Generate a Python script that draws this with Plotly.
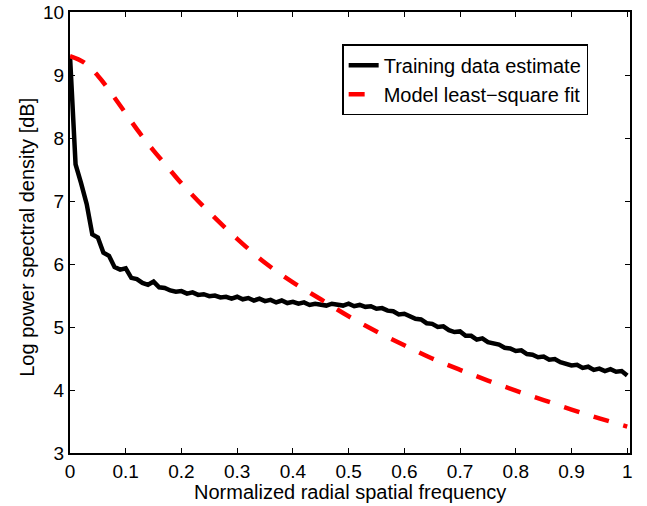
import plotly.graph_objects as go

# Normalized radial spatial frequency grid for the training estimate
freq_train = [round(i * 0.01, 2) for i in range(101)]
train_psd = [
    9.30, 7.58, 7.28, 6.95, 6.47, 6.42, 6.18, 6.13, 5.95, 5.91,
    5.93, 5.78, 5.76, 5.70, 5.67, 5.72, 5.63, 5.62, 5.58, 5.56,
    5.57, 5.53, 5.55, 5.51, 5.52, 5.49, 5.50, 5.47, 5.48, 5.45,
    5.48, 5.44, 5.46, 5.42, 5.45, 5.41, 5.43, 5.39, 5.42, 5.38,
    5.40, 5.37, 5.39, 5.35, 5.37, 5.35, 5.34, 5.37, 5.35, 5.34,
    5.37, 5.33, 5.35, 5.32, 5.33, 5.29, 5.30, 5.26, 5.25, 5.20,
    5.21, 5.16, 5.13, 5.12, 5.06, 5.05, 5.00, 5.01, 4.95, 4.92,
    4.93, 4.86, 4.86, 4.80, 4.82, 4.76, 4.74, 4.72, 4.67, 4.66,
    4.62, 4.63, 4.57, 4.56, 4.52, 4.53, 4.48, 4.49, 4.44, 4.42,
    4.39, 4.40, 4.35, 4.37, 4.32, 4.34, 4.30, 4.33, 4.29, 4.30,
    4.23,
]

freq_model = [0.0, 0.025, 0.05, 0.075, 0.1, 0.125, 0.15, 0.175, 0.2, 0.25,
              0.3, 0.35, 0.4, 0.45, 0.5, 0.55, 0.6, 0.65, 0.7, 0.75,
              0.8, 0.85, 0.9, 0.95, 1.0]
model_psd = [9.30, 9.20, 8.99, 8.70, 8.39, 8.08, 7.80, 7.54, 7.28, 6.82,
             6.40, 6.02, 5.71, 5.44, 5.17, 4.93, 4.71, 4.50, 4.32, 4.15,
             3.99, 3.84, 3.69, 3.55, 3.42]

x_ticks = [0, 0.1, 0.2, 0.3, 0.4, 0.5, 0.6, 0.7, 0.8, 0.9, 1]
x_tick_labels = ["0", "0.1", "0.2", "0.3", "0.4", "0.5", "0.6", "0.7", "0.8", "0.9", "1"]
y_ticks = [3, 4, 5, 6, 7, 8, 9, 10]

FONT = "Liberation Sans, Arial, Helvetica, sans-serif"

fig = go.Figure()
fig.add_trace(go.Scatter(
    x=freq_train, y=train_psd, mode="lines", name="Training data estimate",
    line=dict(color="black", width=4.5),
))
fig.add_trace(go.Scatter(
    x=freq_model, y=model_psd, mode="lines", name="Model least\u2212square fit",
    line=dict(color="#ff0000", width=4.5, dash="16px,15px", shape="spline"),
))

axis_common = dict(
    showline=True, linecolor="black", linewidth=2, mirror="allticks",
    ticks="inside", ticklen=5, tickwidth=1, tickcolor="black",
    showgrid=False, zeroline=False, automargin=False,
    tickfont=dict(family=FONT, size=19, color="black"),
)

fig.update_xaxes(range=[0, 1.005], tickvals=x_ticks, ticktext=x_tick_labels, **axis_common)
fig.update_yaxes(range=[3, 10], tickvals=y_ticks, **axis_common)

fig.add_annotation(
    text="Normalized radial spatial frequency", xref="paper", yref="paper",
    x=0.5, y=-0.088, xanchor="center", yanchor="middle", showarrow=False,
    font=dict(family=FONT, size=20, color="black"),
)
fig.add_annotation(
    text="Log power spectral density [dB]", xref="paper", yref="paper",
    x=-0.077, y=0.49, xanchor="center", yanchor="middle", showarrow=False,
    textangle=-90, font=dict(family=FONT, size=20, color="black"),
)

fig.update_layout(
    width=647, height=506,
    margin=dict(l=70, r=17, t=12, b=53),
    paper_bgcolor="white", plot_bgcolor="white",
    font=dict(family=FONT, size=19, color="black"),
    showlegend=True,
    legend=dict(
        x=0.486, y=0.927, xanchor="left", yanchor="top",
        bgcolor="white", bordercolor="black", borderwidth=1.5,
        font=dict(family=FONT, size=20, color="black"),
        itemwidth=30, tracegroupgap=0,
    ),
)

fig.write_html("out.html")
